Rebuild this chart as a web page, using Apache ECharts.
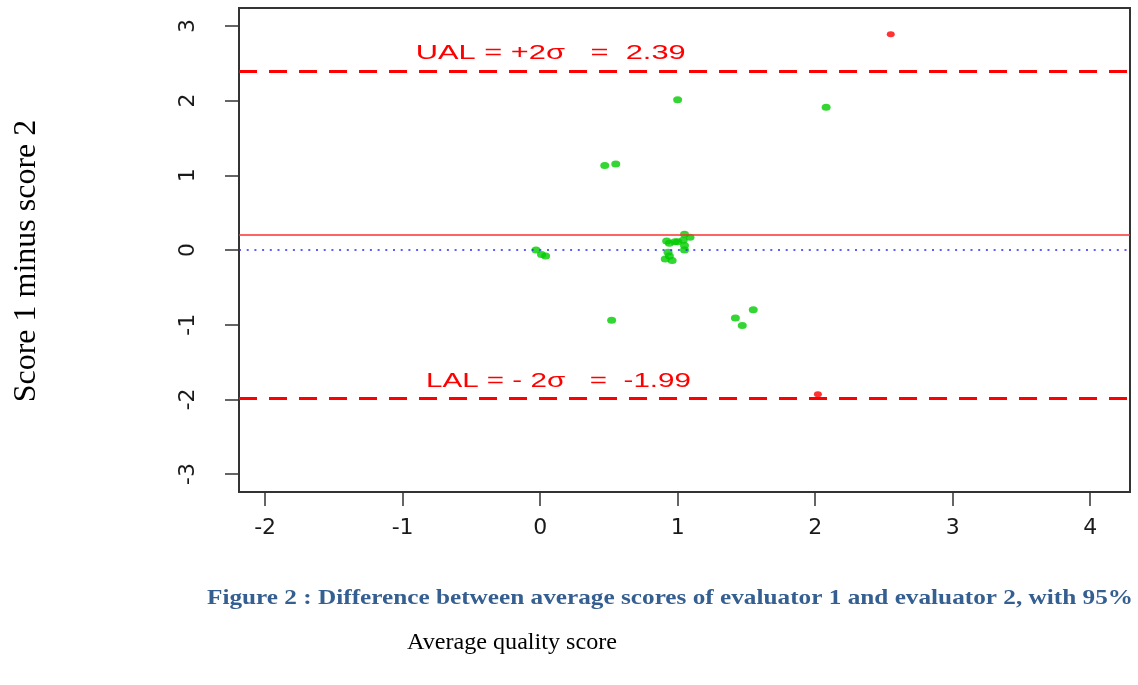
<!DOCTYPE html>
<html>
<head>
<meta charset="utf-8">
<script src="https://cdn.jsdelivr.net/npm/echarts@6/dist/echarts.min.js"></script>
<style>
html,body{margin:0;padding:0;background:#fff;}
#c{width:1138px;height:685px;}
</style>
</head>
<body>
<div id="c"></div>
<script>
// ---- data ----
const greenX = [1.00, 2.08, 0.47, 0.55, -0.03, 0.01, 0.04, 0.52, 1.42, 1.47, 1.55,
                0.92, 0.94, 0.98, 1.00, 1.04, 1.05, 1.09, 1.05, 1.05, 0.93, 0.91, 0.96, 0.94];
const greenY = [2.01, 1.91, 1.13, 1.15, 0.00, -0.06, -0.08, -0.94, -0.91, -1.01, -0.80,
                0.12, 0.09, 0.11, 0.11, 0.13, 0.21, 0.17, 0.00, 0.06, -0.03, -0.12, -0.14, -0.08];
const redX = [2.55, 2.02];
const redY = [2.89, -1.93];
const meanDiff = 0.20;
const upperLimit = 2.39;
const lowerLimit = -1.99;
const xTicks = [-2, -1, 0, 1, 2, 3, 4];
const yTicks = [-3, -2, -1, 0, 1, 2, 3];
const upperText = 'UAL = +2\u03c3   =  2.39';
const lowerText = 'LAL = - 2\u03c3   =  -1.99';
const yTitle = 'Score 1 minus score 2';
const xTitle = 'Average quality score';
const caption = 'Figure 2 : Difference between average scores of evaluator 1 and evaluator 2, with 95%';

// ---- chart ----
const chart = echarts.init(document.getElementById('c'), null, {renderer: 'canvas'});
const pairs = (xs, ys) => xs.map((x, i) => [x, ys[i]]);

const tickStyle = {color: '#333', width: 1.5};
const labelFont = {fontFamily: 'DejaVu Sans', fontSize: 22, color: '#1a1a1a'};

chart.setOption({
  animation: false,
  backgroundColor: '#fff',
  grid: {left: 239, right: 8, top: 8, bottom: 193, show: true,
         borderColor: '#333', borderWidth: 2, backgroundColor: 'transparent'},
  xAxis: {
    type: 'value', min: -2.19, max: 4.29,
    axisLine: {show: false, onZero: false}, splitLine: {show: false},
    axisTick: {show: true, inside: false, length: 14, customValues: xTicks, lineStyle: tickStyle},
    axisLabel: Object.assign({customValues: xTicks, margin: 25}, labelFont)
  },
  yAxis: {
    type: 'value', min: -3.24, max: 3.24,
    axisLine: {show: false, onZero: false}, splitLine: {show: false},
    axisTick: {show: true, inside: false, length: 14, customValues: yTicks, lineStyle: tickStyle},
    axisLabel: Object.assign({customValues: yTicks, margin: 40, rotate: 90}, labelFont)
  },
  series: [
    {
      type: 'scatter', data: [], z: 1, silent: true,
      markLine: {
        silent: true, symbol: ['none', 'none'], label: {show: false},
        data: [
          {yAxis: upperLimit, lineStyle: {type: [18, 12], width: 3, color: '#ff0000'}},
          {yAxis: lowerLimit, lineStyle: {type: [18, 12], width: 3, color: '#ff0000'}},
          {yAxis: meanDiff, lineStyle: {type: 'solid', width: 1.5, color: '#ff3030'}},
          {yAxis: 0, lineStyle: {type: [2, 5.7], width: 1.5, color: '#2a2aff'}}
        ]
      }
    },
    {
      type: 'scatter', z: 3, data: pairs(greenX, greenY),
      symbol: 'circle', symbolSize: [9, 7], itemStyle: {color: '#00cc00'}
    },
    {
      type: 'scatter', z: 3, data: pairs(redX, redY),
      symbol: 'circle', symbolSize: [8, 6], itemStyle: {color: '#ff0000'}
    }
  ]
});

// ---- text annotations ----
const ctx = document.createElement('canvas').getContext('2d');
function fit(text, font, width) { ctx.font = font; return width / ctx.measureText(text).width; }

const up = chart.convertToPixel({gridIndex: 0}, [-0.905, upperLimit]);
const lo = chart.convertToPixel({gridIndex: 0}, [-0.83, lowerLimit]);

const annFam = 'Liberation Sans', annSize = 20;
const serif = 'Liberation Serif';
const capSize = 22;

chart.setOption({
  graphic: [
    {type: 'text', x: up[0], y: up[1] - 18, scaleX: fit(upperText, annSize + 'px "' + annFam + '"', 270), silent: true,
     style: {text: upperText, fontFamily: annFam, fontSize: annSize, fill: '#ff0000', align: 'left', verticalAlign: 'middle'}},
    {type: 'text', x: lo[0], y: lo[1] - 17, scaleX: fit(lowerText, annSize + 'px "' + annFam + '"', 265), silent: true,
     style: {text: lowerText, fontFamily: annFam, fontSize: annSize, fill: '#ff0000', align: 'left', verticalAlign: 'middle'}},
    {type: 'text', x: 27, y: 261, rotation: Math.PI / 2, silent: true,
     style: {text: yTitle, fontFamily: serif, fontSize: 32, fill: '#000', align: 'center', verticalAlign: 'middle'}},
    {type: 'text', x: 512, y: 643, scaleX: fit(xTitle, '24px "' + serif + '"', 210), silent: true,
     style: {text: xTitle, fontFamily: serif, fontSize: 24, fill: '#000', align: 'center', verticalAlign: 'middle'}},
    {type: 'text', x: 207, y: 598, scaleX: fit(caption, 'bold ' + capSize + 'px "' + serif + '"', 926), silent: true,
     style: {text: caption, fontFamily: serif, fontSize: capSize, fontWeight: 'bold', fill: '#365f91', align: 'left', verticalAlign: 'middle'}}
  ]
});
</script>
</body>
</html>
